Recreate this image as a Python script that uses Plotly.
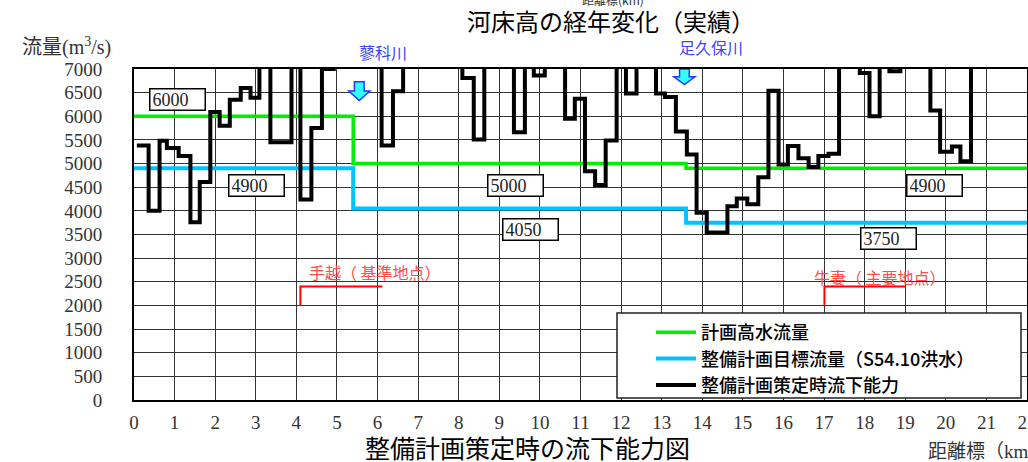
import plotly.graph_objects as go

# ---------------- data ----------------
# step breaks (km) and flow capacity (m3/s) of the black step line
cap_km = [0.07, 0.36, 0.63, 0.81, 1.10, 1.39, 1.62, 1.88, 2.11, 2.36, 2.63, 2.87,
          3.09, 3.36, 3.88, 4.10, 4.37, 4.63, 4.92, 6.10, 6.38, 6.63, 8.09, 8.37,
          8.63, 9.36, 9.63, 9.85, 10.12, 10.62, 10.86, 11.11, 11.36, 11.62, 11.89,
          12.12, 12.38, 12.86, 13.08, 13.35, 13.62, 13.86, 14.11, 14.62, 14.85,
          15.11, 15.38, 15.63, 15.88, 16.11, 16.37, 16.62, 16.86, 17.11, 17.37,
          17.88, 18.12, 18.37, 18.61, 18.88, 19.62, 19.86, 20.15, 20.36, 20.62, 22.0]
cap_val = [5380, 4000, 5480, 5330, 5160, 3760, 4610, 6090, 5800, 6350, 6600, 6390,
           7600, 5450, 7600, 4240, 5750, 7000, 7600, 5380, 6530, 7600, 6810, 5510,
           7600, 5660, 7600, 6860, 7600, 5950, 6370, 4840, 4545, 5490, 7600,
           6480, 7600, 6480, 6410, 5680, 5190, 3960, 3540, 4100, 4260,
           4140, 4710, 6540, 4980, 5370, 5110, 4925, 5160, 5210, 7600,
           6915, 6000, 7600, 6950, 7600, 6120, 5250, 5360, 5050, 7600, 7600]

plan_km = [0, 5.4, 13.6, 22]
plan_val = [6000, 5000, 4900, 4900]          # 計画高水流量
target_km = [0, 5.4, 13.6, 22]
target_val = [4900, 4050, 3750, 3750]        # 整備計画目標流量

box_text = ["6000", "4900", "5000", "4050", "3750", "4900"]
box_km = [1.06, 3.03, 9.39, 9.78, 18.58, 19.71]
box_val = [6350, 4530, 4530, 3600, 3405, 4530]

river_names = ["蓼科川", "足久保川"]
river_label_km = [6.13, 14.22]
river_arrow_km = [5.55, 13.56]
river_arrow_top = [6730, 7000]
river_arrow_bot = [6335, 6670]

point_names = ["手越（ 基準地点）", "牛妻（ 主要地点）"]
point_text_km = [4.25, 16.7]
point_text_val = [2710, 2600]
point_km = [4.1, 17.01]
point_end_km = [6.12, 19.02]
point_low = [2000, 2000]
point_high = [2400, 2400]

x_ticks = list(range(0, 23))
y_ticks = list(range(0, 7001, 500))

# ---------------- layout helpers ----------------
W, H = 1028, 462
L, R, T, B = 134, 1, 69, 62
PW, PH = W - L - R, H - T - B


def px(xp):
    return (xp - L) / PW


def py(yp):
    return (H - B - yp) / PH


CJK = "Noto Sans CJK JP"
SERIF = "Liberation Serif, DejaVu Serif, serif"

fig = go.Figure()

fig.add_trace(go.Scatter(x=plan_km, y=plan_val, mode="lines", line_shape="hv",
                         line=dict(color="#00ee00", width=3.5),
                         name="計画高水流量", legendgroup="a"))
fig.add_trace(go.Scatter(x=target_km, y=target_val, mode="lines", line_shape="hv",
                         line=dict(color="#00c4ff", width=4),
                         name="整備計画目標流量（S54.10洪水）", legendgroup="b"))
fig.add_trace(go.Scatter(x=cap_km, y=cap_val, mode="lines", line_shape="hv",
                         line=dict(color="black", width=4),
                         name="整備計画策定時流下能力", legendgroup="c"))

for i in range(len(point_km)):
    fig.add_trace(go.Scatter(x=[point_km[i], point_km[i], point_end_km[i]],
                             y=[point_low[i], point_high[i], point_high[i]],
                             mode="lines", line=dict(color="red", width=2),
                             showlegend=False, hoverinfo="skip"))

annotations = []
for t, xk, yv in zip(box_text, box_km, box_val):
    annotations.append(dict(x=xk, y=yv, xref="x", yref="y", text=t, showarrow=False,
                            bgcolor="white", bordercolor="black", borderwidth=1.5,
                            borderpad=2, width=50, height=16, align="left",
                            font=dict(family=SERIF, size=18, color="#222")))
annotations.append(dict(x=river_label_km[0], y=py(52), xref="x", yref="paper",
                        text=river_names[0], showarrow=False, yanchor="middle",
                        font=dict(family=CJK, size=16, color="#3a44ff")))
annotations.append(dict(x=river_label_km[1], y=py(47), xref="x", yref="paper",
                        text=river_names[1], showarrow=False, yanchor="middle",
                        font=dict(family=CJK, size=16, color="#3a44ff")))
for t, xk, yv in zip(point_names, point_text_km, point_text_val):
    annotations.append(dict(x=xk, y=yv, xref="x", yref="y", text=t, showarrow=False,
                            xanchor="left",
                            font=dict(family=CJK, size=16, color="#ff4d4d")))

annotations += [
    dict(x=px(611), y=py(20), xref="paper", yref="paper", showarrow=False,
         xanchor="center", yanchor="middle",
         text="河床高の経年変化（実績）", font=dict(family=CJK, size=24, color="black")),
    dict(x=px(613), y=py(-1), xref="paper", yref="paper", showarrow=False,
         xanchor="center", yanchor="middle",
         text="距離標(km)", font=dict(family=CJK, size=12, color="#333")),
    dict(x=px(527), y=py(447), xref="paper", yref="paper", showarrow=False,
         xanchor="center", yanchor="middle",
         text="整備計画策定時の流下能力図", font=dict(family=CJK, size=25, color="black")),
    dict(x=px(926), y=py(451), xref="paper", yref="paper", showarrow=False,
         xanchor="left", yanchor="middle", text="距離標（km",
         font=dict(family=SERIF + ", " + CJK, size=19, color="#333")),
    dict(x=px(20), y=py(46), xref="paper", yref="paper", showarrow=False,
         xanchor="left", yanchor="middle", text="流量(m<sup>3</sup>/s)",
         font=dict(family=SERIF + ", " + CJK, size=20, color="#333")),
]

shapes = []
# arrows for tributaries
for xk, top, bot in zip(river_arrow_km, river_arrow_top, river_arrow_bot):
    sw, hw = 0.12, 0.26
    mid = top - (top - bot) * 0.5
    path = (f"M {xk - sw},{top} L {xk + sw},{top} L {xk + sw},{mid} L {xk + hw},{mid} "
            f"L {xk},{bot} L {xk - hw},{mid} L {xk - sw},{mid} Z")
    shapes.append(dict(type="path", path=path, xref="x", yref="y",
                       fillcolor="#33ffff", line=dict(color="#1a3cff", width=1.5),
                       layer="above"))
# legend background box
shapes.append(dict(type="rect", xref="paper", yref="paper",
                   x0=px(617), x1=px(1021), y0=py(398), y1=py(313),
                   fillcolor="white", line=dict(color="#222", width=1.5), layer="above"))

fig.update_layout(
    width=W, height=H,
    margin=dict(l=L, r=R, t=T, b=B, pad=0, autoexpand=False),
    paper_bgcolor="white", plot_bgcolor="white",
    showlegend=True,
    legend=dict(x=px(651), y=py(314), xanchor="left", yanchor="top",
                bgcolor="rgba(0,0,0,0)", borderwidth=0,
                font=dict(family=CJK, size=18, color="black", weight=500),
                traceorder="grouped", tracegroupgap=0, itemwidth=40),
    annotations=annotations,
    shapes=shapes,
)
fig.update_xaxes(range=[0, 22], tickvals=x_ticks, ticktext=[str(v) for v in x_ticks],
                 showgrid=True, gridcolor="#333", gridwidth=1,
                 showline=True, linecolor="black", linewidth=2, mirror=True,
                 ticks="", ticklabelstandoff=4, zeroline=False, automargin=False,
                 ticklabeloverflow="allow",
                 tickfont=dict(family=SERIF, size=19, color="#333"))
fig.update_yaxes(range=[0, 7000], tickvals=y_ticks, ticktext=[str(v) for v in y_ticks],
                 showgrid=True, gridcolor="#333", gridwidth=1,
                 showline=True, linecolor="black", linewidth=2, mirror=True,
                 ticks="", ticklabelstandoff=26, zeroline=False, automargin=False,
                 tickfont=dict(family=SERIF, size=19, color="#333"))

fig.write_html("out.html")
